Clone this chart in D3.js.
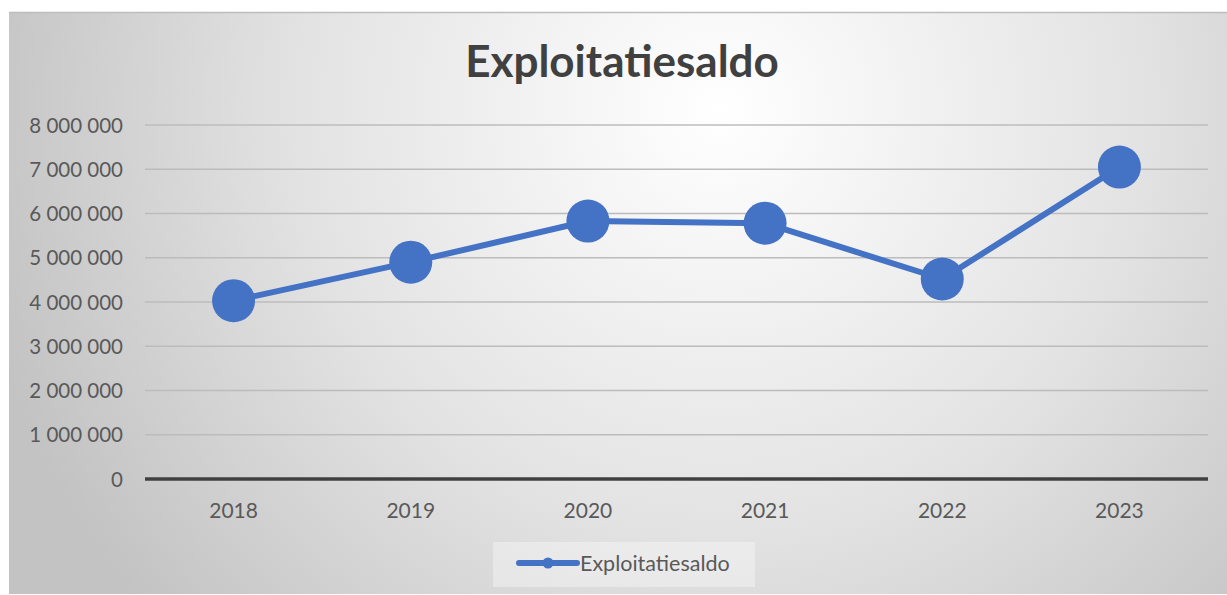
<!DOCTYPE html>
<html>
<head>
<meta charset="utf-8">
<script src="https://cdn.jsdelivr.net/npm/d3@7"></script>
<style>
  html, body { margin: 0; padding: 0; background: #ffffff; }
  svg { display: block; }
  text { font-family: Lato, "Open Sans", sans-serif; }
</style>
</head>
<body>
<svg id="chart" width="1227" height="595"></svg>
<script>
// Operating balance per year
const years = ["2018", "2019", "2020", "2021", "2022", "2023"];
const saldo = [4030000, 4900000, 5830000, 5780000, 4520000, 7050000];
const yTicks = [0, 1000000, 2000000, 3000000, 4000000, 5000000, 6000000, 7000000, 8000000];
const seriesName = "Exploitatiesaldo";
const chartTitle = "Exploitatiesaldo";

const W = 1227, H = 595;
const svg = d3.select("#chart");
const defs = svg.append("defs");

// soft radial backdrop of the chart frame
const grad = defs.append("radialGradient")
  .attr("id", "bg").attr("gradientUnits", "userSpaceOnUse")
  .attr("cx", 720).attr("cy", 110).attr("r", 760);
grad.append("stop").attr("offset", "0").attr("stop-color", "#ffffff");
grad.append("stop").attr("offset", "0.55").attr("stop-color", "#e3e3e3");
grad.append("stop").attr("offset", "1").attr("stop-color", "#c3c3c3");

const frame = { x: 9, y: 12, w: W - 9 + 2, h: H - 12 - 1 };
svg.append("rect")
  .attr("x", frame.x).attr("y", frame.y)
  .attr("width", frame.w).attr("height", frame.h)
  .attr("fill", "url(#bg)");
svg.append("line")
  .attr("x1", frame.x).attr("x2", W).attr("y1", frame.y + 0.5).attr("y2", frame.y + 0.5)
  .attr("stroke", "#bdbdbd").attr("stroke-width", 1.5);

const plot = { left: 145, right: 1208, top: 125, bottom: 479 };

const x = d3.scaleBand().domain(years).range([plot.left, plot.right]);
const y = d3.scaleLinear().domain([0, 8000000]).range([plot.bottom, plot.top]);

// horizontal gridlines
svg.append("g")
  .selectAll("line")
  .data(yTicks.filter(d => d > 0))
  .join("line")
  .attr("x1", plot.left).attr("x2", plot.right)
  .attr("y1", d => y(d)).attr("y2", d => y(d))
  .attr("stroke", "#bcbcbc").attr("stroke-width", 1.6);

// value axis labels
const yAxis = d3.axisLeft(y).tickValues(yTicks).tickSize(0).tickPadding(22)
  .tickFormat(d => d3.format(",")(d).replace(/,/g, " "));
const gy = svg.append("g").attr("transform", `translate(${plot.left},0)`).call(yAxis);
gy.select(".domain").remove();
gy.selectAll("text")
  .attr("fill", "#595959").attr("font-size", 20.5)
  .attr("dy", "0.35em");

// category axis
const xAxis = d3.axisBottom(x).tickSize(0).tickPadding(24);
const gx = svg.append("g").attr("transform", `translate(0,${plot.bottom})`).call(xAxis);
gx.select(".domain").attr("stroke", "#404040").attr("stroke-width", 3.5)
  .attr("d", `M${plot.left},0H${plot.right}`);
gx.selectAll("text").attr("fill", "#595959").attr("font-size", 21);

// series line and markers
const line = d3.line()
  .x((d, i) => x(years[i]) + x.bandwidth() / 2)
  .y(d => y(d));
svg.append("path")
  .datum(saldo)
  .attr("d", line)
  .attr("fill", "none")
  .attr("stroke", "#4472C4")
  .attr("stroke-width", 6)
  .attr("stroke-linejoin", "round");
svg.append("g")
  .selectAll("circle")
  .data(saldo)
  .join("circle")
  .attr("cx", (d, i) => x(years[i]) + x.bandwidth() / 2)
  .attr("cy", d => y(d))
  .attr("r", 21.5)
  .attr("fill", "#4472C4");

// title
svg.append("text")
  .attr("x", 622).attr("y", 77)
  .attr("text-anchor", "middle")
  .attr("font-size", 44).attr("font-weight", 700)
  .attr("fill", "#404040")
  .text(chartTitle);

// legend
const lg = svg.append("g");
lg.append("rect")
  .attr("x", 493).attr("y", 542).attr("width", 262).attr("height", 45)
  .attr("fill", "#ffffff").attr("fill-opacity", 0.35);
lg.append("line")
  .attr("x1", 519).attr("x2", 577).attr("y1", 563).attr("y2", 563)
  .attr("stroke", "#4472C4").attr("stroke-width", 6).attr("stroke-linecap", "round");
lg.append("circle").attr("cx", 548).attr("cy", 563).attr("r", 5.5).attr("fill", "#4472C4");
lg.append("text")
  .attr("x", 580).attr("y", 571)
  .attr("font-size", 21.5).attr("fill", "#595959")
  .text(seriesName);
</script>
</body>
</html>
